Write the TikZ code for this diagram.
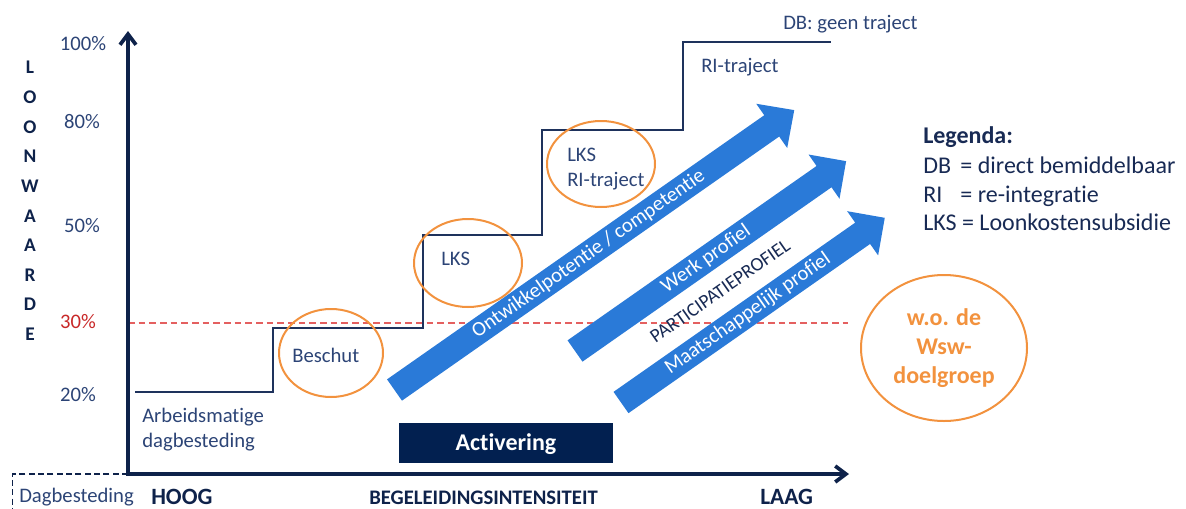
\documentclass[tikz,border=0pt]{standalone}
\usepackage{fontspec}
\setmainfont{Carlito}[Ligatures=NoCommon]
\usetikzlibrary{arrows.meta,shapes.geometric}

\definecolor{axisnavy}{RGB}{14,34,74}
\definecolor{stairnavy}{RGB}{30,50,92}
\definecolor{labelnavy}{RGB}{44,68,118}
\definecolor{legendnavy}{RGB}{24,42,84}
\definecolor{boxnavy}{RGB}{2,32,80}
\definecolor{arrowblue}{RGB}{42,122,216}
\definecolor{ringorange}{RGB}{242,146,62}
\definecolor{pctred}{RGB}{200,40,40}
\definecolor{dashred}{RGB}{228,96,96}

\begin{document}
\begin{tikzpicture}[x=0.75pt,y=-0.75pt,
  lbl/.style={font=\fontsize{15.5}{18}\selectfont, text=labelnavy, inner sep=0pt},
  pct/.style={lbl, anchor=base},
  vletter/.style={font=\bfseries\fontsize{14.5}{16}\selectfont, text=axisnavy, inner sep=0pt},
  axislbl/.style={font=\bfseries\fontsize{17.5}{20}\selectfont, text=axisnavy, inner sep=0pt, anchor=base west},
  legend/.style={font=\fontsize{18}{21}\selectfont, text=legendnavy, inner sep=0pt, anchor=base west},
  ring/.style={ellipse, draw=ringorange, line width=1.5pt, inner sep=0pt},
  axisline/.style={draw=axisnavy, line width=2.8pt, line join=miter},
  stairline/.style={draw=stairnavy, line width=1.8pt, line join=miter},
  arrowlbl/.style={font=\fontsize{15.5}{18}\selectfont, text=white, inner sep=0pt, rotate=35},
  tip/.tip={Straight Barb[length=8pt, width=12pt]}
]
\useasboundingbox (0,0) rectangle (1186,508);

% --- 30% threshold ---
\coordinate (redL) at (128,323);
\coordinate (redR) at (848,323);
\draw[dashred, line width=1.1pt, dash pattern=on 5pt off 3pt] (redL) -- (redR);

% --- blue block arrows (drawn in their own rotated frames) ---
\begin{scope}[shift={(394.5,390)}, rotate=35]
  \fill[arrowblue] (0,-13) -- (460.5,-13) -- (460.5,-27) -- (488,0) -- (460.5,27) -- (460.5,13) -- (0,13) -- cycle;
  \node[arrowlbl] (ontw) at (237,0) {Ontwikkelpotentie / competentie};
\end{scope}
\begin{scope}[shift={(575,351)}, rotate=35]
  \fill[arrowblue] (0,-13) -- (304,-13) -- (304,-27) -- (331,0) -- (304,27) -- (304,13) -- (0,13) -- cycle;
  \node[arrowlbl] (werk) at (160,0) {Werk profiel};
\end{scope}
\begin{scope}[shift={(621,402.5)}, rotate=35]
  \fill[arrowblue] (0,-13) -- (295,-13) -- (295,-27) -- (322,0) -- (295,27) -- (295,13) -- (0,13) -- cycle;
  \node[arrowlbl] (maat) at (155,0) {Maatschappelijk profiel};
\end{scope}
\node[font=\fontsize{14.5}{17}\selectfont, text=legendnavy, inner sep=0pt, rotate=35] (partic) at (720,291) {PARTICIPATIEPROFIEL};

% --- staircase of wage value ---
\coordinate (s0) at (135,392);
\coordinate (s1) at (273,392);
\coordinate (s2) at (273,328);
\coordinate (s3) at (423,328);
\coordinate (s4) at (423,235);
\coordinate (s5) at (542,235);
\coordinate (s6) at (542,130);
\coordinate (s7) at (683,130);
\coordinate (s8) at (683,42);
\coordinate (s9) at (831,42);
\draw[stairline] (s0) -- (s1) -- (s2) -- (s3) -- (s4) -- (s5) -- (s6) -- (s7) -- (s8) -- (s9);

% --- axes ---
\coordinate (origin) at (128,474);
\coordinate (ytop) at (128,31);
\coordinate (xend) at (849,474);
\draw[axisline, {tip}-{tip}] (ytop) -- (origin) -- (xend);

% --- dashed corner for Dagbesteding ---
\coordinate (dbcorner) at (12.5,474);
\coordinate (dbbottom) at (12.5,508);
\draw[axisnavy, line width=1.4pt, dash pattern=on 4.5pt off 2.5pt] (origin) -- (dbcorner) -- (dbbottom);

% --- vertical axis title ---
\foreach \c [count=\i from 0] in {L,O,O,N,W,A,A,R,D,E}
  \node[vletter] (lw\i) at (30,{67.5+29.65*\i}) {\c};

% --- percentages ---
\node[pct] (p100) at (83,50) {100\%};
\node[pct] (p80) at (82,128) {80\%};
\node[pct] (p50) at (82,232) {50\%};
\node[pct, text=pctred] (p30) at (78,328) {30\%};
\node[pct] (p20) at (78,401) {20\%};

% --- step labels ---
\node[lbl, anchor=base west] (arb1) at (142,422) {Arbeidsmatige};
\node[lbl, anchor=base west] (arb2) at (142,447) {dagbesteding};
\node[lbl, anchor=base west] (besch) at (292,362) {Beschut};
\node[lbl, anchor=base west] (lks1) at (441,265) {LKS};
\node[lbl, anchor=base west] (lks2) at (567,161) {LKS};
\node[lbl, anchor=base west] (ri1) at (567,186) {RI-traject};
\node[lbl, anchor=base west] (ri2) at (701,72) {RI-traject};
\node[lbl, anchor=base west] (dbgeen) at (783,29) {DB: geen traject};

% --- orange rings ---
\node[ring, minimum width=78pt, minimum height=66pt] (ringbesch) at (331,353) {};
\node[ring, minimum width=81pt, minimum height=66pt] (ringlks) at (468,263) {};
\node[ring, minimum width=81pt, minimum height=64.5pt] (ringri) at (601,164) {};
\node[ring, minimum width=124.5pt, minimum height=109.5pt, align=center,
      font=\bfseries\fontsize{18}{21.75}\selectfont, text=ringorange] (wsw) at (944,348)
      {w.o. de\\Wsw-\\doelgroep};

% --- Activering bar ---
\node[fill=boxnavy, minimum width=160.5pt, minimum height=30pt, inner sep=0pt,
      text height=14pt, text depth=3.5pt,
      font=\bfseries\fontsize{18}{21}\selectfont, text=white] (activ) at (506,443) {Activering};

% --- horizontal axis labels ---
\node[lbl, anchor=base west] (dagb) at (19,502) {Dagbesteding};
\node[axislbl] (hoog) at (151,504.5) {HOOG};
\node[axislbl, font=\bfseries\fontsize{15.5}{18}\selectfont] (begel) at (369,504) {BEGELEIDINGSINTENSITEIT};
\node[axislbl] (laag) at (760,504.5) {LAAG};

% --- legend ---
\node[legend, font=\bfseries\fontsize{18}{21}\selectfont] (leg0) at (923,143) {Legenda:};
\node[legend] (leg1) at (923,173) {\makebox[1.55em][l]{DB}= direct bemiddelbaar};
\node[legend] (leg2) at (923,202) {\makebox[1.55em][l]{RI}= re-integratie};
\node[legend] (leg3) at (923,230) {LKS = Loonkostensubsidie};
\end{tikzpicture}
\end{document}
